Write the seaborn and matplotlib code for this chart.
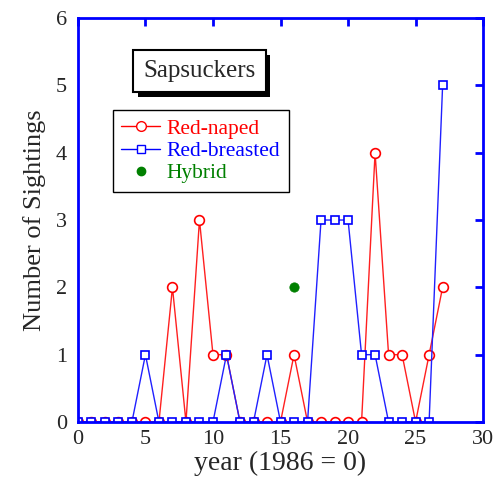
import matplotlib
matplotlib.use("Agg")
import matplotlib.pyplot as plt
import matplotlib.patheffects as pe
from matplotlib.lines import Line2D
import seaborn as sns

# sightings per year (1986 = 0)
years = list(range(28))
red_naped = [0, 0, 0, 0, 0, 0, 0, 2, 0, 3, 1, 1, 0, 0,
             0, 0, 1, 0, 0, 0, 0, 0, 4, 1, 1, 0, 1, 2]
red_breasted = [0, 0, 0, 0, 0, 1, 0, 0, 0, 0, 0, 1, 0, 0,
                1, 0, 0, 0, 3, 3, 3, 1, 1, 0, 0, 0, 0, 5]
hybrid_year = [16]
hybrid_count = [2]

sns.set_style("white")
plt.rcParams['font.family'] = ['Liberation Serif', 'DejaVu Serif']

fig = plt.figure(figsize=(4.93, 4.95), dpi=100)
ax = fig.add_axes([0.158, 0.1475, 0.822, 0.816])

sns.lineplot(x=years, y=red_naped, ax=ax, color='#ff2020', lw=1,
             marker='o', markersize=7, markerfacecolor='white',
             markeredgecolor='red', markeredgewidth=1.2)
sns.lineplot(x=years, y=red_breasted, ax=ax, color='#2020ff', lw=1,
             marker='s', markersize=5.5, markerfacecolor='white',
             markeredgecolor='blue', markeredgewidth=1.2)
sns.scatterplot(x=hybrid_year, y=hybrid_count, ax=ax, color='green',
                s=45, edgecolor='green', zorder=5)

ax.set_xlim(0, 30)
ax.set_ylim(0, 6)
ax.set_xticks(range(0, 31, 5))
ax.set_yticks(range(0, 7))
ax.tick_params(direction='in', length=6, width=2, color='blue',
               top=True, right=True, labelsize=16)
ax.tick_params(axis='x', pad=6)
ax.tick_params(axis='y', pad=8)
for s in ax.spines.values():
    s.set_color('blue')
    s.set_linewidth(2)
ax.set_xlabel("year (1986 = 0)", fontsize=20, labelpad=1)
ax.set_ylabel("Number of Sightings", fontsize=19, labelpad=7)

t = ax.text(0.30, 0.868, "Sapsuckers", transform=ax.transAxes, fontsize=18,
            ha='center', va='center',
            bbox=dict(boxstyle='square,pad=0.4', fc='white', ec='black', lw=1.5))
t.get_bbox_patch().set_path_effects([
    pe.withSimplePatchShadow(offset=(3, -3), shadow_rgbFace='black', alpha=1)])

handles = [
    Line2D([], [], color='red', lw=1, marker='o', markersize=7,
           markerfacecolor='white', markeredgecolor='red'),
    Line2D([], [], color='blue', lw=1, marker='s', markersize=5.5,
           markerfacecolor='white', markeredgecolor='blue'),
    Line2D([], [], color='green', lw=0, marker='o', markersize=6),
]
leg = ax.legend(handles, ["Red-naped", "Red-breasted", "Hybrid"],
                labelcolor=['red', 'blue', 'green'], fontsize=15.5,
                loc='upper left', bbox_to_anchor=(0.086, 0.772),
                borderaxespad=0, fancybox=False, edgecolor='black',
                framealpha=1, handlelength=1.8, handletextpad=0.3,
                labelspacing=0.1, borderpad=0.4)
leg.get_frame().set_linewidth(1)

fig.savefig("out.png", dpi=100)
